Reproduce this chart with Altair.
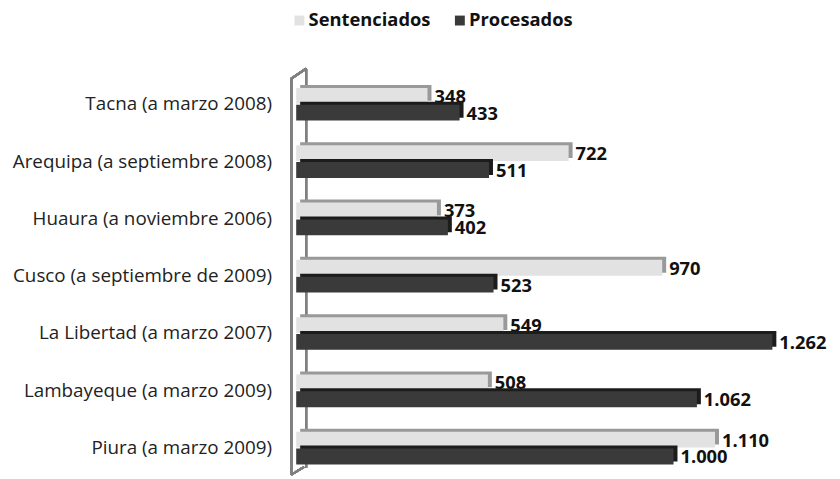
import altair as alt
import pandas as pd

categories = [
    "Tacna (a marzo 2008)",
    "Arequipa (a septiembre 2008)",
    "Huaura (a noviembre 2006)",
    "Cusco (a septiembre de 2009)",
    "La Libertad (a marzo 2007)",
    "Lambayeque (a marzo 2009)",
    "Piura (a marzo 2009)",
]
sentenciados = [348, 722, 373, 970, 549, 508, 1110]
procesados = [433, 511, 402, 523, 1262, 1062, 1000]
series_names = ["Sentenciados", "Procesados"]
series_colors = ["#e2e2e2", "#3a3a3a"]
depth_colors = ["#999999", "#1c1c1c"]


def fmt(v):
    return f"{v:,}".replace(",", ".")


rows = []
for c, s, p in zip(categories, sentenciados, procesados):
    rows.append({"cat": c, "serie": "Sentenciados", "valor": s, "label": fmt(s)})
    rows.append({"cat": c, "serie": "Procesados", "valor": p, "label": fmt(p)})
df = pd.DataFrame(rows)

FONT = "Open Sans"
BAR_H = 16
OFF = 8.5

x_enc = alt.X("valor:Q", scale=alt.Scale(domain=[0, 1420], nice=False), axis=None)
y_enc = alt.Y(
    "cat:N",
    sort=categories,
    scale=alt.Scale(paddingInner=0, paddingOuter=0),
    axis=alt.Axis(
        title=None, domain=False, ticks=False, labelPadding=25,
        labelFont=FONT, labelFontSize=19, labelColor="#222222", labelLimit=400,
    ),
)

base = alt.Chart(df)

# 3D wall (decorative)
wall_line = lambda x, x2, y, y2: base.mark_rule(color="#808080", strokeWidth=2).encode(
    x=alt.value(x), x2=alt.value(x2), y=alt.value(y), y2=alt.value(y2)
)
walls = [
    wall_line(10, 10, -7, 396),
    wall_line(-5, -5, 3, 403),
    wall_line(-5, 10, 3, -7),
    wall_line(-5, 8, 403, 395),
]

layers = list(walls)
for i, name in enumerate(series_names):
    sign = -1 if i == 0 else 1
    sub = base.transform_filter(alt.datum.serie == name)
    depth = sub.mark_bar(
        height=BAR_H, color=depth_colors[i],
        yOffset=sign * OFF - 3, xOffset=4,
    ).encode(x=x_enc, y=y_enc)
    front = sub.mark_bar(height=BAR_H, yOffset=sign * OFF).encode(
        x=x_enc,
        y=y_enc,
        color=alt.Color(
            "serie:N",
            scale=alt.Scale(domain=series_names, range=series_colors),
            legend=alt.Legend(
                title=None, orient="none", direction="horizontal",
                legendX=-6, legendY=-65, symbolType="square", symbolSize=100,
                symbolStrokeWidth=0, labelFont=FONT, labelFontSize=18.5,
                labelFontWeight="bold", labelColor="#111111", columnPadding=20,
                labelOffset=0, labelLimit=300,
            ),
        ),
    )
    text = sub.mark_text(
        align="left", baseline="middle", dx=7, dy=sign * OFF + 1,
        font=FONT, fontSize=18.5, fontWeight="bold", color="#111111",
    ).encode(x=x_enc, y=y_enc, text="label:N")
    layers += [depth, front, text]

chart = alt.layer(*layers).properties(
    width=541,
    height=405,
    autosize=alt.AutoSizeParams(type="none"),
    padding={"left": 291, "top": 66, "right": 0, "bottom": 0},
).configure_view(stroke=None)

chart.save("out.html", embed_options={"renderer": "svg", "actions": False})
